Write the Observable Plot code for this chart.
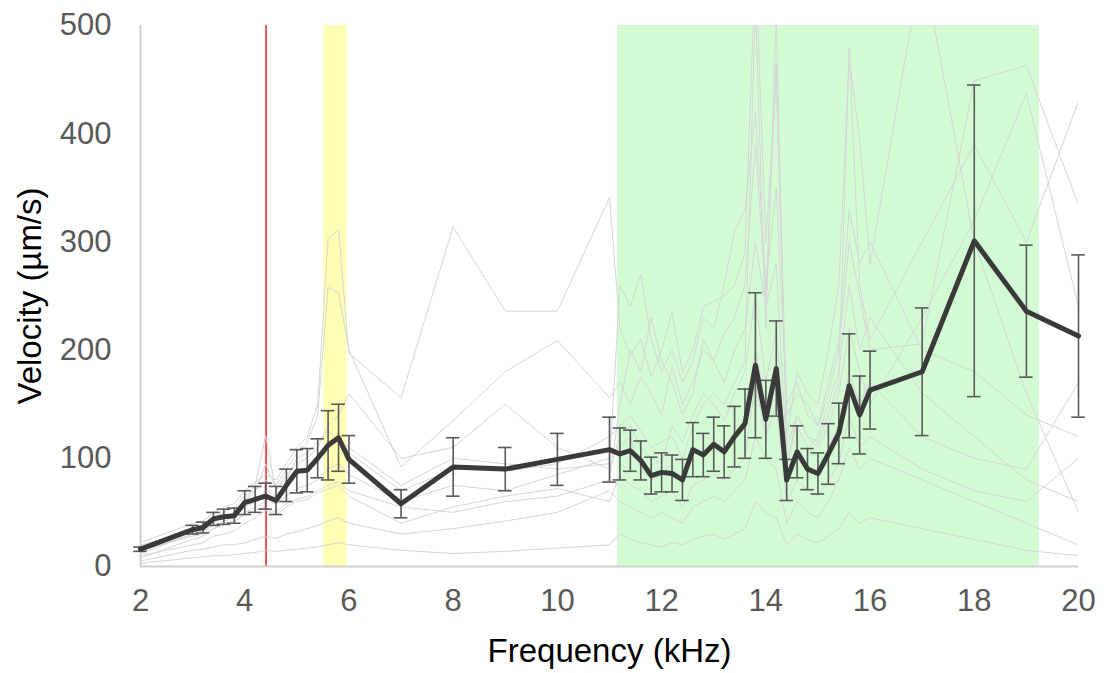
<!DOCTYPE html>
<html><head><meta charset="utf-8">
<script src="https://cdn.jsdelivr.net/npm/d3@7"></script>
<script src="https://cdn.jsdelivr.net/npm/@observablehq/plot@0.6"></script>
<style>
body{margin:0;background:#fff;font-family:"Liberation Sans",Arial,sans-serif}
</style>
</head><body><div id="chart"></div>
<script>
// Frequencies (kHz)
const frequencies = [2,
  3.0,3.2,3.4,3.6,3.8,4.0,4.2,4.4,4.6,4.8,5.0,5.2,5.4,5.6,5.8,6.0,
  7,8,9,10,
  11.0,11.2,11.4,11.6,11.8,12.0,12.2,12.4,12.6,12.8,13.0,13.2,13.4,13.6,13.8,14.0,14.2,14.4,14.6,14.8,15.0,15.2,15.4,15.6,15.8,16.0,
  17,18,19,20];

// Mean velocity (µm/s) and error (±)
const meanVelocity = [16,
  34,36,44,46,47,59,62,65,61,75,88,89,100,112,119,99,
  58,92,90,99,
  108,104,107,98,84,87,86,80,108,103,113,106,120,132,186,136,183,80,106,90,86,104,123,167,140,163,
  180,301,236,213];
const errorVelocity = [2,
  4,5,6,7,7,11,12,12,13,15,20,20,18,32,31,22,
  13,27,20,24,
  30,24,19,18,17,18,17,19,25,20,25,24,28,32,67,36,44,19,24,19,19,28,28,48,36,36,
  59,144,61,75];

// Individual recordings (light grey traces)
const traceA = [22, 40,42,50,55,58,70,78,85,80,95,110,120,150,303,311,197, 156,314,236,236, 341,220,195,210,175,200,235,180,200,240,245,250,260,290,560,300,450,120,180,160,150,200,260,470,395,280, 560,300,160,50];
const traceB = [18, 35,38,45,50,55,65,70,80,75,90,105,115,140,258,253,200, 92,135,180,209, 156,170,150,175,160,140,185,150,170,200,190,215,230,260,390,250,465,140,160,150,130,160,200,300,250,200, 206,449,463,334];
const traceC = [12, 30,33,40,45,50,60,75,121,70,85,95,100,110,130,140,160, 100,110,150,110, 90,120,130,110,100,95,130,115,140,160,150,135,160,180,250,170,220,90,140,120,110,130,160,220,180,150, 230,320,437,240];
const traceD = [8, 25,28,35,38,40,50,55,60,58,65,72,75,80,90,95,85, 60,75,70,85, 100,110,120,90,80,85,95,75,110,100,115,105,120,130,200,150,180,80,100,90,85,110,130,180,150,170, 120,100,90,170];
const traceE = [5, 15,16,18,20,20,22,25,28,26,30,32,35,38,42,45,40, 30,35,42,50, 70,60,55,50,45,50,45,40,55,60,65,60,70,80,120,100,90,40,60,50,45,60,80,110,90,100, 80,60,40,20];
const traceF = [3, 8,9,10,10,11,12,13,15,14,15,16,17,18,20,22,20, 15,12,14,17, 20,30,25,22,20,18,22,20,25,28,30,25,30,35,60,50,45,20,30,25,22,28,35,50,40,45, 35,25,15,10];
const traceG = [15, 28,30,35,40,42,48,52,55,50,58,62,65,70,75,78,70, 55,50,60,65, 80,150,200,180,230,190,170,140,160,210,190,170,200,220,300,240,280,100,130,110,120,150,180,260,200,230, 160,120,80,60];
const traceH = [20, 32,35,42,46,50,62,68,95,72,80,100,105,115,125,118,110, 75,100,95,90, 95,260,240,270,210,180,200,170,190,230,220,260,310,330,420,260,350,150,170,140,130,170,210,330,280,300, 200,180,140,120];
const traceI = [10, 20,22,28,30,33,40,45,52,48,55,60,62,68,72,75,65, 40,55,65,72, 60,85,75,70,60,65,70,55,75,80,85,80,90,100,170,120,150,60,80,70,65,80,95,140,110,120, 90,70,60,100];
const traceJ = [14, 30,32,38,42,45,55,60,70,65,72,85,90,100,115,120,105, 70,90,88,95, 120,130,140,125,110,115,120,100,130,150,160,150,170,190,520,220,510,110,140,120,115,140,170,480,260,210, 300,390,300,430];

const xTicks = [2,4,6,8,10,12,14,16,18,20];
const yTicks = [0,100,200,300,400,500];
const markerFreq = [4.41];
const yellowBand = [5.52, 5.96];
const greenBand = [11.15, 19.25];

const traces = [traceA,traceB,traceC,traceD,traceE,traceF,traceG,traceH,traceI,traceJ];
const traceRows = traces.flatMap((t,i)=> t.map((v,j)=>({id:i, f:frequencies[j], v})));
const meanRows = frequencies.map((f,i)=>({f, v:meanVelocity[i], lo:meanVelocity[i]-errorVelocity[i], hi:meanVelocity[i]+errorVelocity[i]}));
const bands = [
  {x1:yellowBand[0], x2:yellowBand[1], y1:0, y2:500, c:"#ffffb3"},
  {x1:greenBand[0], x2:greenBand[1], y1:0, y2:500, c:"#d4fcd4"}
];

const font = "'Liberation Sans', Arial, sans-serif";
const chart = Plot.plot({
  width:1108, height:673,
  marginLeft:140, marginRight:30, marginTop:25, marginBottom:107,
  x:{domain:[2,20]},
  y:{domain:[0,500]},
  style:{fontFamily:font, background:"white", overflow:"visible"},
  marks:[
    Plot.rect(bands, {x1:"x1", x2:"x2", y1:"y1", y2:"y2", fill:"c"}),
    Plot.ruleX(markerFreq, {y1:0, y2:500, stroke:"#ff2a2a", strokeWidth:1.6}),
    Plot.line(traceRows, {x:"f", y:"v", z:"id", stroke:"#d6d6d6", strokeWidth:1, clip:true}),
    Plot.ruleX([2], {stroke:"#cfcfcf", strokeWidth:2}),
    Plot.ruleY([0], {stroke:"#cfcfcf", strokeWidth:2}),
    Plot.ruleX(meanRows, {x:"f", y1:"lo", y2:"hi", stroke:"#595959", strokeWidth:1.6}),
    Plot.ruleY(meanRows, {y:"lo", x1:d=>d.f-0.13, x2:d=>d.f+0.13, stroke:"#595959", strokeWidth:1.6}),
    Plot.ruleY(meanRows, {y:"hi", x1:d=>d.f-0.13, x2:d=>d.f+0.13, stroke:"#595959", strokeWidth:1.6}),
    Plot.line(meanRows, {x:"f", y:"v", stroke:"#3a3a3a", strokeWidth:5}),
    Plot.axisX({ticks:xTicks, tickSize:0, tickPadding:22, fontSize:31, color:"#595959", label:null}),
    Plot.axisY({ticks:yTicks, tickSize:0, tickPadding:29, fontSize:31, color:"#595959", label:null}),
    Plot.text(["Frequency (kHz)"], {frameAnchor:"bottom", lineAnchor:"middle", textAnchor:"middle", dy:85, fontSize:33, fill:"#000"}),
    Plot.text(["Velocity (µm/s)"], {frameAnchor:"left", lineAnchor:"middle", textAnchor:"middle", dx:-110, rotate:-90, fontSize:33, fill:"#000"})
  ]
});
document.getElementById("chart").appendChild(chart);
</script>
</body></html>
